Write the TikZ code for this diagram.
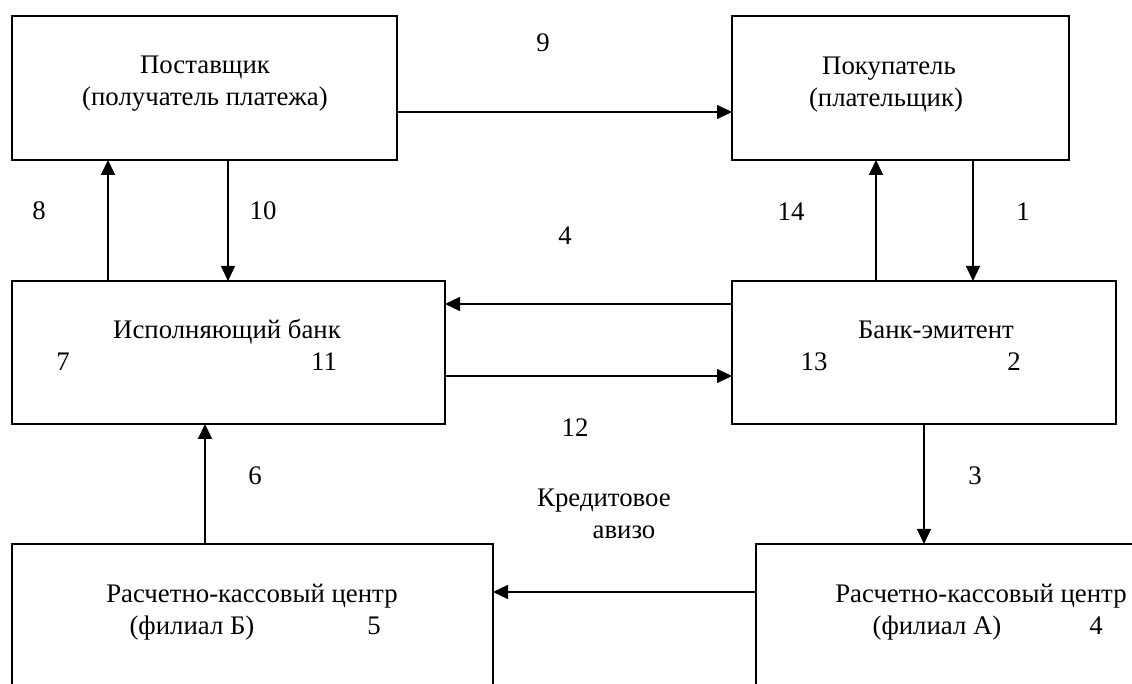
\documentclass[tikz,border=0pt]{standalone}
\usepackage{fontspec}
\setmainfont{Liberation Serif}
\usetikzlibrary{arrows.meta}
\tikzset{
 box/.style={draw, line width=0.7pt, rectangle, anchor=north west, inner sep=0pt, outer sep=0pt},
 txt/.style={anchor=base, inner sep=0pt, font=\fontsize{13.4pt}{16pt}\selectfont},
 conn/.style={line width=0.6pt, -{Triangle[length=7.5pt,width=7pt]}},
 thickconn/.style={conn, line width=1pt},
}
\begin{document}
\begin{tikzpicture}[x=0.5pt,y=-0.5pt]
\useasboundingbox (0,0) rectangle (1132,684);
\fill[white] (0,0) rectangle (1132,684);
\clip (0,0) rectangle (1132,684);
% boxes
\node[box, minimum width=192.5pt, minimum height=72pt] (post) at (12,16) {};
\node[box, minimum width=168.5pt, minimum height=72pt] (pok) at (732,16) {};
\node[box, minimum width=216.5pt, minimum height=71.5pt] (isp) at (12,281) {};
\node[box, minimum width=192pt, minimum height=71.5pt] (emit) at (732,281) {};
\node[box, minimum width=240.5pt, minimum height=72pt] (rkcb) at (12,544) {};
\node[box, minimum width=195pt, minimum height=72pt] (rkca) at (756,544) {};
% box texts
\node[txt] (tpost1) at (205,74) {Поставщик};
\node[txt] (tpost2) at (205,106) {(получатель платежа)};
\node[txt] (tpok1) at (889,75) {Покупатель};
\node[txt] (tpok2) at (886,107) {(плательщик)};
\node[txt] (tisp) at (227,339) {Исполняющий банк};
\node[txt] (n7) at (63,371) {7};
\node[txt] (n11) at (324,371) {11};
\node[txt] (temit) at (936,339) {Банк-эмитент};
\node[txt] (n13) at (814,371) {13};
\node[txt] (n2) at (1014,371) {2};
\node[txt] (trkcb1) at (252,603) {Расчетно-кассовый центр};
\node[txt] (trkcb2) at (192,635) {(филиал Б)};
\node[txt] (n5) at (374,635) {5};
\node[txt] (trkca1) at (981,603) {Расчетно-кассовый центр};
\node[txt] (trkca2) at (937,635) {(филиал А)};
\node[txt] (n4b) at (1096,635) {4};
% connector labels
\node[txt] (l9) at (543,52) {9};
\node[txt] (l8) at (39,220) {8};
\node[txt] (l10) at (263,220) {10};
\node[txt] (l14) at (791,221) {14};
\node[txt] (l1) at (1023,221) {1};
\node[txt] (l4) at (565,245) {4};
\node[txt] (l12) at (575,437) {12};
\node[txt] (l6) at (255,485) {6};
\node[txt] (l3) at (975,485) {3};
\node[txt] (lkred) at (604,507) {Кредитовое};
\node[txt] (laviz) at (624,539) {авизо};
% connectors
\draw[conn] (post.east |- 0,112) -- (pok.west |- 0,112);
\draw[thickconn] (isp.north -| 108,0) -- (post.south -| 108,0);
\draw[conn] (post.south -| 228,0) -- (isp.north -| 228,0);
\draw[thickconn] (emit.north -| 876,0) -- (pok.south -| 876,0);
\draw[conn] (pok.south -| 973,0) -- (emit.north -| 973,0);
\draw[conn] (emit.west |- 0,304) -- (isp.east |- 0,304);
\draw[conn] (isp.east |- 0,376) -- (emit.west |- 0,376);
\draw[conn] (emit.south -| 924,0) -- (rkca.north -| 924,0);
\draw[thickconn] (rkcb.north -| 205,0) -- (isp.south -| 205,0);
\draw[conn] (rkca.west |- 0,592) -- (rkcb.east |- 0,592);
\end{tikzpicture}
\end{document}
